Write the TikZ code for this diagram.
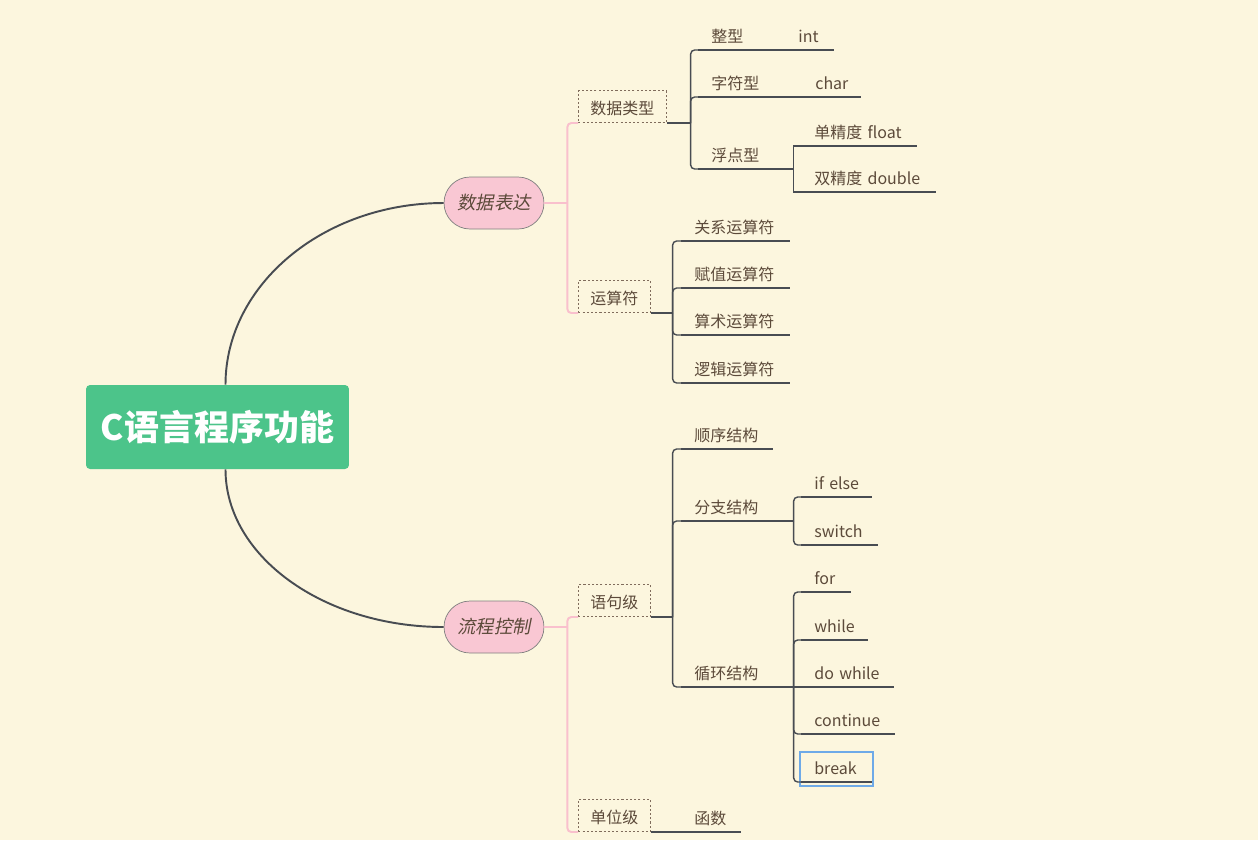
\documentclass[tikz,border=0pt]{standalone}
\usepackage{fontspec}
\setmainfont{Noto Sans CJK SC}
\newfontfamily\slantfont{Noto Sans CJK SC}[FakeSlant=0.2]
\usetikzlibrary{positioning,fit,calc}

\definecolor{bgc}{RGB}{252,246,222}
\definecolor{rootc}{RGB}{76,196,138}
\definecolor{pinkc}{RGB}{249,199,211}
\definecolor{pinkl}{RGB}{249,192,205}
\definecolor{linec}{RGB}{72,76,82}
\definecolor{txtc}{RGB}{92,74,58}
\definecolor{boxc}{RGB}{128,108,92}
\definecolor{selc}{RGB}{110,170,232}

\begin{document}
\begin{tikzpicture}[
    x=0.02cm, y=-0.02cm,
    font=\fontsize{9.1}{11}\selectfont,
    root/.style={
        fill=rootc,
        rounded corners=0.08cm,
        minimum width=5.26cm,
        minimum height=1.68cm,
        text=white,
        font=\bfseries\fontsize{19.9}{24}\selectfont
    },
    mainbr/.style={
        draw=gray, fill=pinkc,
        rounded corners=0.52cm,
        minimum width=2cm,
        minimum height=1.04cm,
        text=txtc,
        font=\slantfont\fontsize{10.4}{12}\selectfont
    },
    sub/.style={
        anchor=south west,
        draw=boxc, dash pattern=on 1.2pt off 1.2pt,
        inner xsep=0.24cm, inner ysep=0pt,
        minimum height=0.64cm,
        text height=0.34cm, text depth=0.04cm,
        text=txtc
    },
    topic/.style={
        anchor=south west,
        inner xsep=0pt, inner ysep=0.07cm,
        text width=#1, align=left,
        text height=0.28cm, text depth=0.08cm,
        text=txtc,
        execute at begin node={\hspace*{0.26cm}}
    },
    link/.style={draw=linec, line width=0.8pt},
    mainline/.style={draw=linec, line width=1.1pt},
    pinkline/.style={draw=pinkl, line width=1.1pt, rounded corners=0.08cm},
    selbox/.style={draw=selc, line width=1.1pt, inner xsep=0.02cm, inner ysep=0.08cm}
]

\path[fill=bgc] (0,0) rectangle (1258,840);

% ============================================================
% ROOT AND MAIN BRANCHES
% ============================================================
\node[root] (root) at (217.5,427) {C语言程序功能};
\node[mainbr] (expr) at (494,203) {数据表达};
\node[mainbr] (flow) at (494,627) {流程控制};

\draw[mainline] ([xshift=0.16cm]root.north) .. controls +(0,-100) and +(-120,0) .. (expr.west);
\draw[mainline] ([xshift=0.16cm]root.south) .. controls +(0,87) and +(-120,0) .. (flow.west);

% ============================================================
% SECOND LEVEL
% ============================================================
\node[sub] (dtype) at (578,123) {数据类型};
\node[sub] (ops) at (578,313) {运算符};
\node[sub] (stmt) at (578,617) {语句级};
\node[sub] (unit) at (578,832) {单位级};

\draw[pinkline] (expr.east) -- ++(23,0) coordinate (jE);
\draw[pinkline] (jE) |- (dtype.south west);
\draw[pinkline] (jE) |- (ops.south west);
\draw[pinkline] (flow.east) -- ++(23,0) coordinate (jW);
\draw[pinkline] (jW) |- (stmt.south west);
\draw[pinkline] (jW) |- (unit.south west);

% ============================================================
% 数据类型
% ============================================================
\node[topic=1.14cm] (tInt) at (698,50) {整型};
\node[topic=0.96cm] (int) at (785,50) {int};
\node[topic=1.48cm] (tChar) at (698,97) {字符型};
\node[topic=1.16cm] (char) at (802,97) {char};
\node[topic=1.48cm] (tFloat) at (698,169) {浮点型};
\node[topic=2.3cm] (single) at (801,146) {单精度 float};
\node[topic=2.68cm] (double) at (801,192) {双精度 double};

\draw[link] (dtype.south east) -- ++(24,0) coordinate (jT);
\foreach \n in {tInt,tChar,tFloat}
    \draw[link, rounded corners=0.08cm] (jT) |- (\n.south west);
\draw[link] (tInt.south east) -- (int.south west);
\draw[link] (tChar.south east) -- (char.south west);
\draw[link] (tFloat.south east) -- ++(21,0) coordinate (jF);
\foreach \n in {single,double}
    \draw[link] (jF) |- (\n.south west);

% ============================================================
% 运算符
% ============================================================
\node[topic=2.16cm] (rel) at (681,241) {关系运算符};
\node[topic=2.16cm] (asg) at (681,288) {赋值运算符};
\node[topic=2.16cm] (ari) at (681,335) {算术运算符};
\node[topic=2.16cm] (logi) at (681,383) {逻辑运算符};

\draw[link] (ops.south east) -- ++(22,0) coordinate (jO);
\foreach \n in {rel,asg,ari,logi}
    \draw[link, rounded corners=0.08cm] (jO) |- (\n.south west);

% ============================================================
% 语句级
% ============================================================
\node[topic=1.82cm] (seq) at (681,449) {顺序结构};
\node[topic=1.82cm] (branch) at (681,521) {分支结构};
\node[topic=1.82cm] (loop) at (681,687) {循环结构};

\node[topic=1.4cm] (ifelse) at (801,497) {if else};
\node[topic=1.52cm] (switch) at (801,545) {switch};

\node[topic=0.98cm] (for) at (801,592) {for};
\node[topic=1.32cm] (while) at (801,640) {while};
\node[topic=1.84cm] (dowhile) at (801,687) {do while};
\node[topic=1.86cm] (cont) at (801,734) {continue};
\node[topic=1.4cm] (brk) at (801,782) {break};
\node[selbox, fit=(brk)] (sel) {};

\draw[link] (stmt.south east) -- ++(22,0) coordinate (jS);
\foreach \n in {seq,branch,loop}
    \draw[link, rounded corners=0.08cm] (jS) |- (\n.south west);
\draw[link] (branch.south east) -- ++(21,0) coordinate (jB);
\foreach \n in {ifelse,switch}
    \draw[link, rounded corners=0.08cm] (jB) |- (\n.south west);
\draw[link] (loop.south east) -- ++(21,0) coordinate (jL);
\foreach \n in {for,while,cont,brk}
    \draw[link, rounded corners=0.08cm] (jL) |- (\n.south west);
\draw[link] (jL) -- (dowhile.south west);

% ============================================================
% 单位级
% ============================================================
\node[topic=1.18cm] (func) at (681,832) {函数};
\draw[link] (unit.south east) -- (func.south west);

% underlines of the topics
\foreach \n in {tInt,int,tChar,char,tFloat,single,double,rel,asg,ari,logi,
                seq,branch,loop,ifelse,switch,for,while,dowhile,cont,brk,func}
    \draw[link] (\n.south west) -- (\n.south east);

\end{tikzpicture}
\end{document}
